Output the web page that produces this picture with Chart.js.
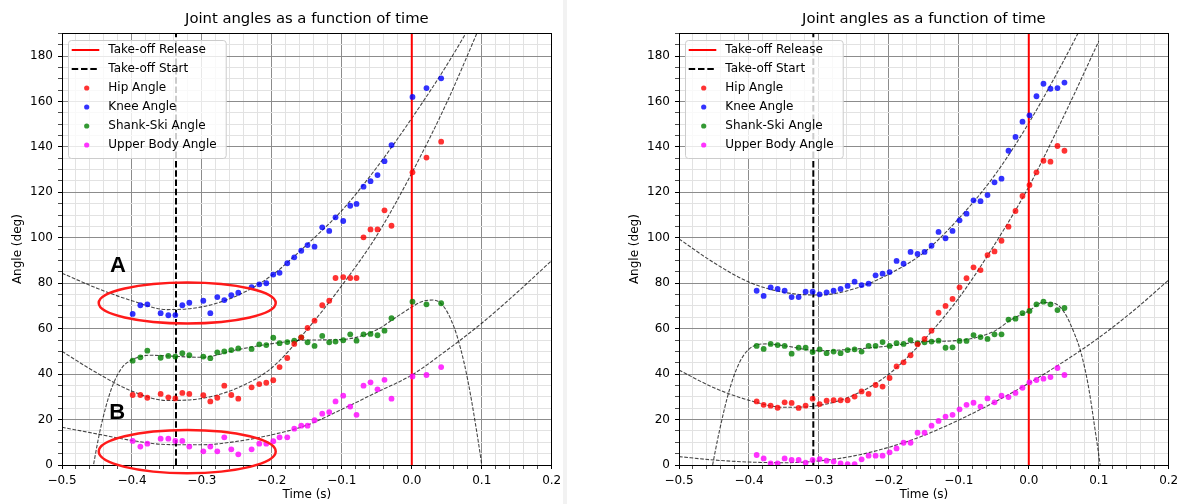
<!DOCTYPE html>
<html>
<head>
<meta charset="utf-8">
<script src="https://cdn.jsdelivr.net/npm/chart.js@4.4.1/dist/chart.umd.min.js"></script>
<style>
  html, body { margin: 0; padding: 0; background: #fff; }
  body { width: 1186px; height: 504px; position: relative; overflow: hidden; }
  .panel { position: absolute; top: 0; width: 563px; height: 504px; }
  #divider { position: absolute; left: 563px; top: 0; width: 4px; height: 504px; background: #f2f2f2; }
</style>
</head>
<body>
<div class="panel" style="left:0"><canvas id="chartLeft" width="563" height="504"></canvas></div>
<div id="divider"></div>
<div class="panel" style="left:617px"><canvas id="chartRight" width="563" height="504"></canvas></div>
<script>
// --- left trial: tracked frames (time in s, angles in deg)
const timeLeft = [-0.399, -0.388, -0.378, -0.359, -0.348, -0.338, -0.328, -0.318, -0.298, -0.288, -0.278, -0.268, -0.258, -0.248, -0.229, -0.218, -0.208, -0.198, -0.189, -0.178, -0.168, -0.158, -0.149, -0.139, -0.128, -0.118, -0.109, -0.098, -0.088, -0.079, -0.069, -0.059, -0.049, -0.039, -0.029, 0.001, 0.021, 0.042];
const hipLeft = [30.8, 30.8, 29.6, 31.3, 29.8, 29.3, 31.7, 31.3, 30.7, 28.0, 29.6, 34.9, 30.8, 29.2, 34.2, 35.6, 36.2, 37.3, 43.1, 47.1, 53.3, 56.2, 60.3, 63.5, 70.3, 72.3, 82.3, 82.7, 82.3, 82.3, 100.2, 103.7, 103.7, 112.1, 105.3, 128.8, 135.3, 142.3];
const kneeLeft = [66.5, 70.3, 70.7, 66.8, 65.9, 66.0, 70.3, 71.4, 72.3, 66.8, 73.9, 72.6, 74.7, 75.8, 78.3, 79.5, 80.0, 83.8, 84.6, 88.8, 91.4, 94.3, 96.8, 96.1, 104.6, 103.0, 109.0, 107.4, 114.1, 114.9, 122.5, 124.9, 127.6, 133.7, 140.8, 162.0, 165.9, 170.2];
const shankLeft = [45.9, 47.4, 50.3, 47.2, 48.0, 47.7, 49.2, 48.3, 47.7, 47.0, 49.6, 50.0, 50.6, 51.3, 51.1, 53.1, 52.8, 56.0, 53.6, 54.1, 54.7, 56.2, 54.0, 52.4, 56.8, 54.0, 54.3, 54.9, 57.5, 54.7, 57.5, 57.7, 57.1, 59.1, 64.6, 71.9, 70.7, 71.2];
const upperLeft = [10.6, 8.1, 9.4, 11.6, 11.6, 10.6, 10.6, 8.1, 6.0, 8.1, 6.0, 12.2, 6.9, 4.7, 6.9, 9.4, 9.4, 10.5, 12.2, 12.2, 16.0, 17.3, 17.3, 19.7, 22.6, 23.3, 28.0, 30.5, 25.7, 22.1, 34.9, 36.4, 33.3, 37.5, 29.2, 39.0, 39.6, 43.1];

// --- right trial
const timeRight = [-0.389, -0.379, -0.369, -0.359, -0.349, -0.339, -0.329, -0.319, -0.309, -0.299, -0.289, -0.279, -0.269, -0.259, -0.249, -0.239, -0.229, -0.219, -0.209, -0.199, -0.189, -0.179, -0.169, -0.159, -0.149, -0.139, -0.129, -0.119, -0.109, -0.099, -0.089, -0.079, -0.069, -0.059, -0.049, -0.039, -0.029, -0.019, -0.009, 0.001, 0.011, 0.021, 0.031, 0.041, 0.051];
const hipRight = [28.0, 26.5, 26.1, 25.2, 27.6, 27.3, 25.1, 26.1, 29.2, 26.8, 28.3, 28.5, 28.5, 28.5, 30.1, 32.4, 31.3, 35.2, 34.5, 38.3, 43.4, 45.2, 48.3, 53.1, 55.5, 59.1, 67.0, 70.0, 73.1, 78.2, 82.2, 87.0, 85.8, 92.4, 94.0, 98.7, 104.9, 111.8, 118.4, 123.2, 128.8, 133.9, 133.5, 140.4, 138.3];
const kneeRight = [76.7, 74.4, 78.2, 77.5, 76.7, 73.9, 73.9, 76.3, 76.3, 75.1, 76.0, 76.7, 77.5, 78.8, 80.7, 79.2, 79.8, 83.5, 84.2, 84.9, 89.8, 88.6, 93.8, 92.9, 93.8, 96.5, 102.6, 99.8, 103.0, 107.7, 110.6, 116.5, 116.1, 118.8, 124.4, 126.0, 138.3, 144.4, 151.1, 153.9, 162.3, 167.8, 165.6, 165.9, 168.3];
const shankRight = [52.4, 51.1, 53.3, 52.8, 52.4, 49.0, 51.6, 51.6, 49.7, 50.9, 49.2, 49.9, 49.2, 50.6, 50.9, 49.9, 52.4, 52.4, 54.1, 52.4, 53.6, 53.3, 55.0, 53.6, 54.0, 54.3, 54.7, 51.6, 51.8, 54.6, 54.6, 57.2, 56.3, 55.5, 57.5, 57.5, 64.0, 64.4, 66.8, 67.8, 70.7, 71.9, 70.7, 68.2, 69.1];
const upperRight = [4.4, 2.9, 0.7, 0.7, 2.9, 2.2, 2.2, 1.0, 2.2, 2.6, 1.9, 1.5, 0.7, 0.4, 0.4, 2.5, 4.1, 4.1, 4.1, 5.6, 7.3, 9.8, 9.8, 14.2, 14.2, 17.3, 19.4, 21.3, 22.1, 24.5, 26.5, 27.4, 25.7, 29.3, 27.6, 30.5, 29.9, 31.7, 34.0, 36.4, 37.4, 38.0, 38.7, 42.7, 39.6];

// --- fitted curves at these times
const fitTime = [-0.5, -0.45, -0.4, -0.35, -0.3, -0.25, -0.2, -0.15, -0.1, -0.05, 0, 0.05, 0.1];
const fitTimeLong = [-0.5, -0.45, -0.4, -0.35, -0.3, -0.25, -0.2, -0.15, -0.1, -0.05, 0, 0.05, 0.1, 0.15, 0.2];
const hipFitLeft = [50, 40.5, 32.5, 28.4, 29.3, 33.8, 42.8, 59.5, 79, 101, 128.5, 159.5, 195];
const kneeFitLeft = [84.4, 77.8, 72.3, 68.4, 69.6, 74.5, 83.5, 97, 112, 131, 152.6, 176, 202];
const upperFitLeft = [16.6, 13.7, 10.8, 9.0, 8.9, 10.4, 13.3, 17.5, 24.5, 32, 39.6, 50.5, 62.4, 75.8, 90.0];
const shankFitTimeLeft = [-0.465, -0.455, -0.445, -0.43, -0.415, -0.4, -0.375, -0.35, -0.3, -0.25, -0.2, -0.15, -0.1, -0.05, -0.025, 0, 0.015, 0.03, 0.045, 0.06, 0.07, 0.08, 0.09, 0.1, 0.105];
const shankFitLeft = [-18, 0, 16, 33, 42.5, 46.3, 48.3, 48.0, 47.4, 50.7, 53.4, 55.0, 55.2, 59.5, 64.5, 69.5, 72, 72.6, 70, 61, 51, 37.4, 20, 0, -12];

const hipFitRight = [41.8, 34, 28.5, 25.4, 26.2, 30.8, 40, 55, 73.5, 96.5, 122.5, 153.5, 186.5];
const kneeFitRight = [99.5, 89, 80.5, 76, 74.8, 77.5, 84, 93.5, 108.5, 127, 150.5, 178, 208];
const upperFitRight = [3.7, 2.2, 1.3, 1.0, 1.8, 4.0, 7.8, 13, 19.8, 27.5, 36, 45.5, 56, 68, 81.4];
const shankFitTimeRight = [-0.462, -0.452, -0.443, -0.428, -0.414, -0.4, -0.375, -0.35, -0.3, -0.25, -0.2, -0.15, -0.1, -0.05, -0.025, 0, 0.02, 0.035, 0.05, 0.065, 0.075, 0.085, 0.095, 0.102, 0.108];
const shankFitRight = [-16, 0, 13.9, 33, 44.8, 51, 53.3, 52.5, 50.3, 51.0, 52.4, 54.3, 54.8, 58.8, 64, 67.8, 71.5, 71.3, 67.5, 58, 49, 35, 15, 0, -15];

const releaseTime = 0.0;
const startTimeLeft = -0.337;
const startTimeRight = -0.308;

Chart.defaults.font.family = '"DejaVu Sans", sans-serif';
Chart.defaults.font.size = 12;
Chart.defaults.color = '#000';

const FONT = '"DejaVu Sans", sans-serif';
const pts = (xs, ys) => xs.map((x, i) => ({ x: x, y: ys[i] }));
const isMajor = (v, step) => Math.abs(v / step - Math.round(v / step)) < 1e-6;

function scatterSet(label, xs, ys, color, rank) {
  return { type: 'scatter', label: label, data: pts(xs, ys), backgroundColor: color, borderWidth: 0,
    pointRadius: 2.9, pointHoverRadius: 2.9, showLine: false, order: 1, legendRank: rank };
}
function fitSet(xs, ys) {
  return { type: 'line', data: pts(xs, ys), borderColor: 'rgba(0,0,0,0.72)', borderWidth: 1.1,
    borderDash: [3.7, 1.6], pointRadius: 0, cubicInterpolationMode: 'monotone', fill: false, order: 3 };
}
function vline(label, t, color, dash, rank) {
  return { type: 'line', label: label, data: [{ x: t, y: 0 }, { x: t, y: 190 }], borderColor: color,
    borderWidth: 2, borderDash: dash, pointRadius: 0, fill: false, order: 2, legendRank: rank };
}

// frame, title, legend and hand drawn marks, matplotlib style
const decorations = {
  id: 'decorations',
  afterDatasetsDraw(chart, args, o) {
    const { ctx, chartArea: a, scales: { x, y } } = chart;
    ctx.save();
    ctx.strokeStyle = '#000';
    ctx.lineWidth = 1;
    ctx.setLineDash([]);
    ctx.strokeRect(Math.round(a.left) + 0.5, Math.round(a.top) + 0.5, Math.round(a.width) - 1, Math.round(a.height));

    ctx.fillStyle = '#000';
    ctx.font = '14.8px ' + FONT;
    ctx.textAlign = 'center';
    ctx.textBaseline = 'middle';
    ctx.fillText(o.title, (a.left + a.right) / 2, 19);

    // legend
    const items = chart.data.datasets.filter(d => d.legendRank !== undefined)
      .sort((p, q) => p.legendRank - q.legendRank);
    ctx.font = '12px ' + FONT;
    const tw = Math.max(...items.map(d => ctx.measureText(d.label).width));
    const bx = a.left + 6, by = a.top + 6.7, bw = 40.3 + tw + 9, bh = 19 * items.length + 4;
    ctx.beginPath();
    ctx.roundRect(bx + 0.5, by + 0.5, bw, bh, 3);
    ctx.fillStyle = 'rgba(255,255,255,0.8)';
    ctx.fill();
    ctx.strokeStyle = '#cccccc';
    ctx.stroke();
    items.forEach((d, i) => {
      const cy = by + 10 + 19 * i;
      if (d.type === 'line') {
        ctx.beginPath();
        ctx.setLineDash(d.borderDash || []);
        ctx.strokeStyle = d.borderColor;
        ctx.lineWidth = d.borderWidth;
        ctx.moveTo(bx + 3.7, cy);
        ctx.lineTo(bx + 31.3, cy);
        ctx.stroke();
        ctx.setLineDash([]);
      } else {
        ctx.beginPath();
        ctx.fillStyle = d.backgroundColor;
        ctx.arc(bx + 18.7, cy, 2.6, 0, Math.PI * 2);
        ctx.fill();
      }
      ctx.fillStyle = '#000';
      ctx.textAlign = 'left';
      ctx.fillText(d.label, bx + 40.3, cy);
    });

    // red ellipses and letters added on top of the figure
    (o.ellipses || []).forEach(e => {
      const cx = x.getPixelForValue(e.t), cy = y.getPixelForValue(e.v);
      const rx = x.getPixelForValue(e.t + e.dt) - cx, ry = cy - y.getPixelForValue(e.v + e.dv);
      ctx.beginPath();
      ctx.ellipse(cx, cy, rx, ry, 0, 0, Math.PI * 2);
      ctx.strokeStyle = '#ff1a1a';
      ctx.lineWidth = 2.5;
      ctx.stroke();
    });
    (o.letters || []).forEach(l => {
      ctx.font = 'bold 22px "Liberation Sans", sans-serif';
      ctx.fillStyle = '#000';
      ctx.textAlign = 'center';
      ctx.textBaseline = 'middle';
      ctx.fillText(l.text, x.getPixelForValue(l.t), y.getPixelForValue(l.v));
    });
    ctx.restore();
  }
};

function makeChart(id, s) {
  const datasets = [
    scatterSet('Hip Angle', s.time, s.hip, 'rgba(255,0,0,0.8)', 3),
    scatterSet('Knee Angle', s.time, s.knee, 'rgba(0,0,255,0.8)', 4),
    scatterSet('Shank-Ski Angle', s.time, s.shank, 'rgba(0,128,0,0.8)', 5),
    scatterSet('Upper Body Angle', s.time, s.upper, 'rgba(255,0,255,0.8)', 6),
    vline('Take-off Release', releaseTime, '#ff0000', [], 1),
    vline('Take-off Start', s.start, '#000000', [6.5, 2.8], 2),
    fitSet(fitTime, s.hipFit),
    fitSet(fitTime, s.kneeFit),
    fitSet(s.shankFitTime, s.shankFit),
    fitSet(fitTimeLong, s.upperFit)
  ];
  return new Chart(document.getElementById(id), {
    type: 'scatter',
    data: { datasets: datasets },
    options: {
      responsive: false,
      animation: false,
      events: [],
      layout: { padding: { top: 33.3, right: 11.3, left: 0, bottom: 0 } },
      plugins: {
        legend: { display: false },
        tooltip: { enabled: false },
        decorations: { title: 'Joint angles as a function of time', ellipses: s.ellipses, letters: s.letters }
      },
      scales: {
        x: {
          type: 'linear', min: -0.5, max: 0.2,
          ticks: {
            stepSize: 0.02, autoSkip: false, maxRotation: 0, minRotation: 0, padding: 5,
            callback: v => isMajor(v, 0.1) ? (Math.abs(v) < 1e-9 ? 0 : v).toFixed(1).replace('-', '\u2212') : ''
          },
          grid: {
            color: c => isMajor(c.tick.value, 0.1) ? '#8c8c8c' : '#e2e2e2',
            tickColor: '#000', tickLength: 4,
            tickWidth: c => isMajor(c.tick.value, 0.1) ? 1 : 0.7
          },
          border: { display: false },
          title: { display: true, text: 'Time (s)', padding: { top: 0, bottom: 1.5 } },
          afterFit: sc => { sc.height = 39; sc.paddingLeft = 0; sc.paddingRight = 0; }
        },
        y: {
          type: 'linear', min: 0, max: 190,
          ticks: {
            stepSize: 5, autoSkip: false, padding: 5,
            callback: v => v % 20 === 0 ? String(v) : ''
          },
          grid: {
            color: c => isMajor(c.tick.value, 20) ? '#8c8c8c' : '#e2e2e2',
            tickColor: '#000', tickLength: 4,
            tickWidth: c => isMajor(c.tick.value, 20) ? 1 : 0.7
          },
          border: { display: false },
          title: { display: true, text: 'Angle (deg)', padding: { top: 10.8, bottom: 0 } },
          afterFit: sc => { sc.width = 62; sc.paddingTop = 0; sc.paddingBottom = 0; }
        }
      }
    },
    plugins: [decorations]
  });
}

makeChart('chartLeft', {
  time: timeLeft, hip: hipLeft, knee: kneeLeft, shank: shankLeft, upper: upperLeft,
  start: startTimeLeft,
  hipFit: hipFitLeft, kneeFit: kneeFitLeft, upperFit: upperFitLeft,
  shankFitTime: shankFitTimeLeft, shankFit: shankFitLeft,
  ellipses: [
    { t: -0.321, v: 71.3, dt: 0.1265, dv: 9.0 },
    { t: -0.321, v: 5.9, dt: 0.1265, dv: 9.5 }
  ],
  letters: [
    { text: 'A', t: -0.42, v: 87.7 },
    { text: 'B', t: -0.421, v: 23.0 }
  ]
});

makeChart('chartRight', {
  time: timeRight, hip: hipRight, knee: kneeRight, shank: shankRight, upper: upperRight,
  start: startTimeRight,
  hipFit: hipFitRight, kneeFit: kneeFitRight, upperFit: upperFitRight,
  shankFitTime: shankFitTimeRight, shankFit: shankFitRight,
  ellipses: [], letters: []
});
</script>
</body>
</html>
